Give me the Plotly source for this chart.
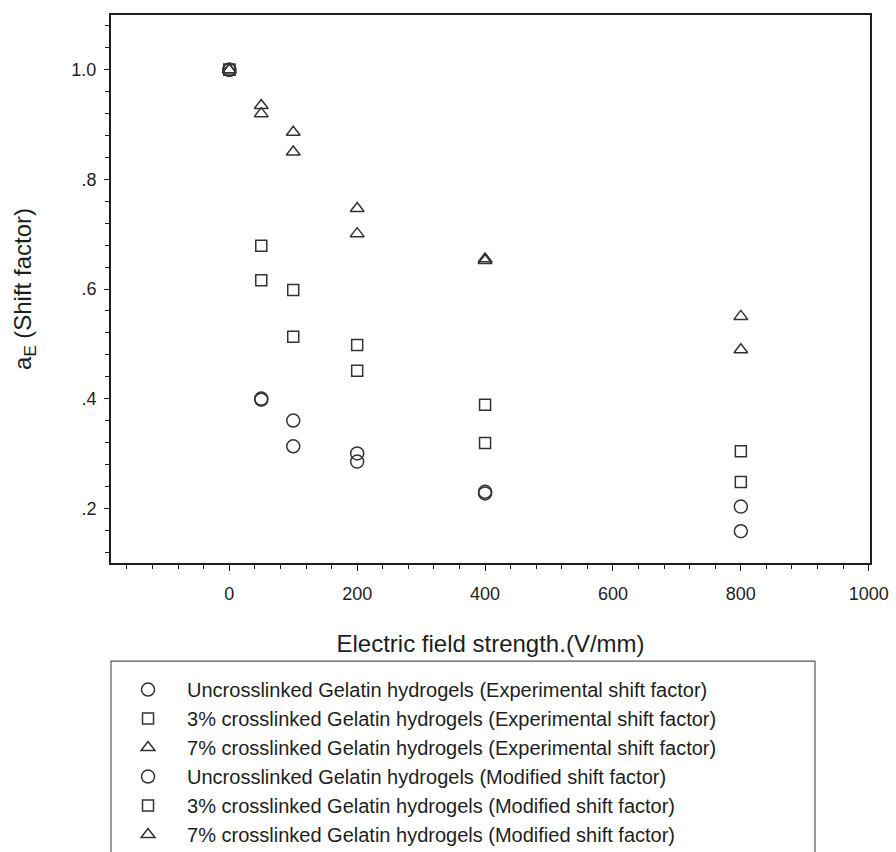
import plotly.graph_objects as go

# Electric field strength (V/mm)
field = [0, 50, 100, 200, 400, 800]

# Shift factors
uncross_exp = [1.0, 0.400, 0.360, 0.300, 0.230, 0.203]
cross3_exp = [1.0, 0.679, 0.598, 0.498, 0.389, 0.304]
cross7_exp = [1.0, 0.935, 0.886, 0.747, 0.655, 0.550]
uncross_mod = [1.0, 0.398, 0.313, 0.285, 0.227, 0.158]
cross3_mod = [1.0, 0.616, 0.513, 0.451, 0.319, 0.248]
cross7_mod = [1.0, 0.920, 0.850, 0.701, 0.652, 0.489]

series_names = [
    "Uncrosslinked Gelatin hydrogels (Experimental shift factor)",
    "3% crosslinked Gelatin hydrogels (Experimental shift factor)",
    "7% crosslinked Gelatin hydrogels (Experimental shift factor)",
    "Uncrosslinked Gelatin hydrogels (Modified shift factor)",
    "3% crosslinked Gelatin hydrogels (Modified shift factor)",
    "7% crosslinked Gelatin hydrogels (Modified shift factor)",
]
series_values = [uncross_exp, cross3_exp, cross7_exp, uncross_mod, cross3_mod, cross7_mod]
series_symbols = ["circle-open", "square-open", "triangle-up-open"] * 2
series_sizes = [13, 11, 12] * 2

x_tickvals = [0, 200, 400, 600, 800, 1000]
x_ticktext = ["0", "200", "400", "600", "800", "1000"]
y_tickvals = [0.2, 0.4, 0.6, 0.8, 1.0]
y_ticktext = [".2", ".4", ".6", ".8", "1.0"]

ink = "#1e1e1e"
font_family = "Liberation Sans, Arial, sans-serif"

fig = go.Figure()
for name, vals, sym, sz in zip(series_names, series_values, series_symbols, series_sizes):
    fig.add_trace(go.Scatter(
        x=field, y=vals, mode="markers", name=name,
        marker=dict(symbol=sym, size=sz, color="#333333", line=dict(width=1.5, color="#333333")),
    ))

axis_common = dict(
    showline=True, mirror=True, linecolor=ink, linewidth=2,
    ticks="outside", tickcolor=ink, tickwidth=1.3,
    showgrid=False, zeroline=False,
    tickfont=dict(family=font_family, size=18, color=ink),
)

fig.update_layout(
    width=896, height=852, autosize=False,
    margin=dict(l=111, r=26, t=15, b=289, autoexpand=False),
    paper_bgcolor="white", plot_bgcolor="white",
    font=dict(family=font_family, color=ink),
    xaxis=dict(
        range=[-185, 1002], tickmode="array", tickvals=x_tickvals, ticktext=x_ticktext,
        ticklen=6, ticklabelstandoff=7,
        minor=dict(tick0=0, dtick=40, ticks="outside", ticklen=4, tickwidth=1.2, tickcolor=ink, showgrid=False),
        title=dict(text="Electric field strength.(V/mm)", font=dict(size=24, family=font_family, color=ink), standoff=33),
        **axis_common,
    ),
    yaxis=dict(
        range=[0.1, 1.1], tickmode="array", tickvals=y_tickvals, ticktext=y_ticktext,
        ticklen=5, ticklabelstandoff=4,
        minor=dict(tick0=0, dtick=0.04, ticks="outside", ticklen=4, tickwidth=1.2, tickcolor=ink, showgrid=False),
        title=dict(text="a<sub>E</sub> (Shift factor)", font=dict(size=24, family=font_family, color=ink), standoff=33),
        **axis_common,
    ),
    legend=dict(
        x=-0.0026, y=-0.1953, xanchor="left", yanchor="top",
        bgcolor="rgba(0,0,0,0)", borderwidth=0,
        font=dict(family=font_family, size=20, color=ink),
        itemwidth=68, tracegroupgap=0,
    ),
    showlegend=True,
    shapes=[dict(
        type="rect", xref="paper", yref="paper",
        x0=0.0, x1=0.9275, y0=-0.179, y1=-0.62,
        line=dict(color="#555555", width=1.2), fillcolor="rgba(0,0,0,0)", layer="above",
    )],
)

fig.write_html("out.html")
